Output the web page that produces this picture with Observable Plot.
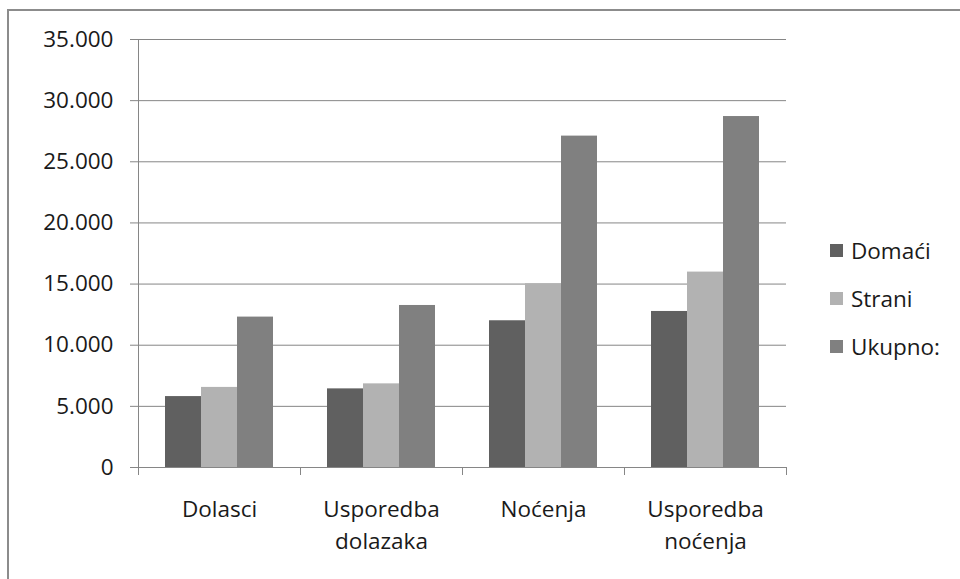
<!DOCTYPE html>
<html>
<head>
<meta charset="utf-8">
<script src="https://cdn.jsdelivr.net/npm/d3@7"></script>
<script src="https://cdn.jsdelivr.net/npm/@observablehq/plot@0.6"></script>
<style>
  html, body { margin: 0; padding: 0; background: #fff; overflow: hidden; }
  #wrap { position: relative; width: 960px; height: 579px; overflow: hidden; font-family: "Open Sans", sans-serif; }
  #border { position: absolute; left: 7px; top: 9px; width: 2000px; height: 2000px; border: 2px solid #8c8c8c; box-sizing: border-box; z-index: 2; pointer-events: none; }
  #chart { position: absolute; left: 0; top: 0; z-index: 1; }
  #legend { position: absolute; left: 830px; top: 232px; font-size: 22.5px; color: #1a1a1a; z-index: 3; }
  #legend .row { display: flex; align-items: center; height: 36px; margin-bottom: 12px; }
  #legend .sw { width: 13px; height: 13px; margin-right: 8px; }
</style>
</head>
<body>
<div id="wrap">
  <div id="chart"></div>
  <div id="border"></div>
  <div id="legend"></div>
</div>
<script>
const categories = ["Dolasci", "Usporedba dolazaka", "Noćenja", "Usporedba noćenja"];
const tickLabels = ["Dolasci", "Usporedba\ndolazaka", "Noćenja", "Usporedba\nnoćenja"];
const series = ["Domaći", "Strani", "Ukupno:"];
const domaci = [5800, 6430, 12000, 12760];
const strani = [6550, 6840, 15030, 15980];
const ukupno = [12300, 13250, 27100, 28700];
const yTicks = [0, 5000, 10000, 15000, 20000, 25000, 30000, 35000];
const colors = ["#606060", "#b2b2b2", "#808080"];

const values = [domaci, strani, ukupno];
const data = [];
categories.forEach((c, i) => {
  series.forEach((s, j) => data.push({cat: c, series: s, value: values[j][i]}));
});

const fmt = d => d === 0 ? "0" : d3.format(",")(d).replace(/,/g, ".");
const gridColor = "#868686";

const chart = Plot.plot({
  width: 960,
  height: 579,
  marginLeft: 138,
  marginRight: 174,
  marginTop: 39,
  marginBottom: 112,
  style: {fontFamily: "'Open Sans', sans-serif", fontSize: "22.5px", color: "#1a1a1a", background: "transparent"},
  fx: {domain: categories, padding: 0, label: null, axis: null},
  x: {domain: series, paddingInner: 0, paddingOuter: 0.75, axis: null},
  y: {domain: [0, 35000], label: null},
  color: {domain: series, range: colors},
  marks: [
    Plot.gridY(yTicks.filter(d => d > 0), {stroke: gridColor, strokeOpacity: 1, strokeWidth: 1}),
    Plot.barY(data, {fx: "cat", x: "series", y: "value", fill: "series"}),
    Plot.ruleY([0], {stroke: gridColor, strokeWidth: 1}),
    Plot.axisY(yTicks, {tickSize: 8, tickPadding: 17, tickFormat: fmt, stroke: gridColor, fill: "#1a1a1a", fontSize: 22.5}),
    Plot.axisFx({anchor: "bottom", tickSize: 0, tickPadding: 27, tickFormat: d => tickLabels[categories.indexOf(d)], lineHeight: 1.42, label: null, fill: "#1a1a1a", fontSize: 22.5})
  ]
});

document.getElementById("chart").appendChild(chart);

// axis line and category boundary ticks, drawn from the plot's own scales
const fxS = chart.scale("fx");
const yS = chart.scale("y");
const svg = d3.select(chart);
const g = svg.append("g").attr("stroke", gridColor).attr("stroke-width", 1);
const y0 = yS.apply(0);
const yTop = yS.apply(35000);
const left = fxS.apply(categories[0]);
g.append("line").attr("x1", left + 0.5).attr("x2", left + 0.5).attr("y1", yTop).attr("y2", y0 + 8);
categories.forEach(c => {
  const xr = fxS.apply(c) + fxS.bandwidth;
  g.append("line").attr("x1", xr + 0.5).attr("x2", xr + 0.5).attr("y1", y0).attr("y2", y0 + 8);
});

// legend
const legend = d3.select("#legend");
series.forEach((s, j) => {
  const row = legend.append("div").attr("class", "row");
  row.append("div").attr("class", "sw").style("background", colors[j]);
  row.append("span").text(s);
});
</script>
</body>
</html>
